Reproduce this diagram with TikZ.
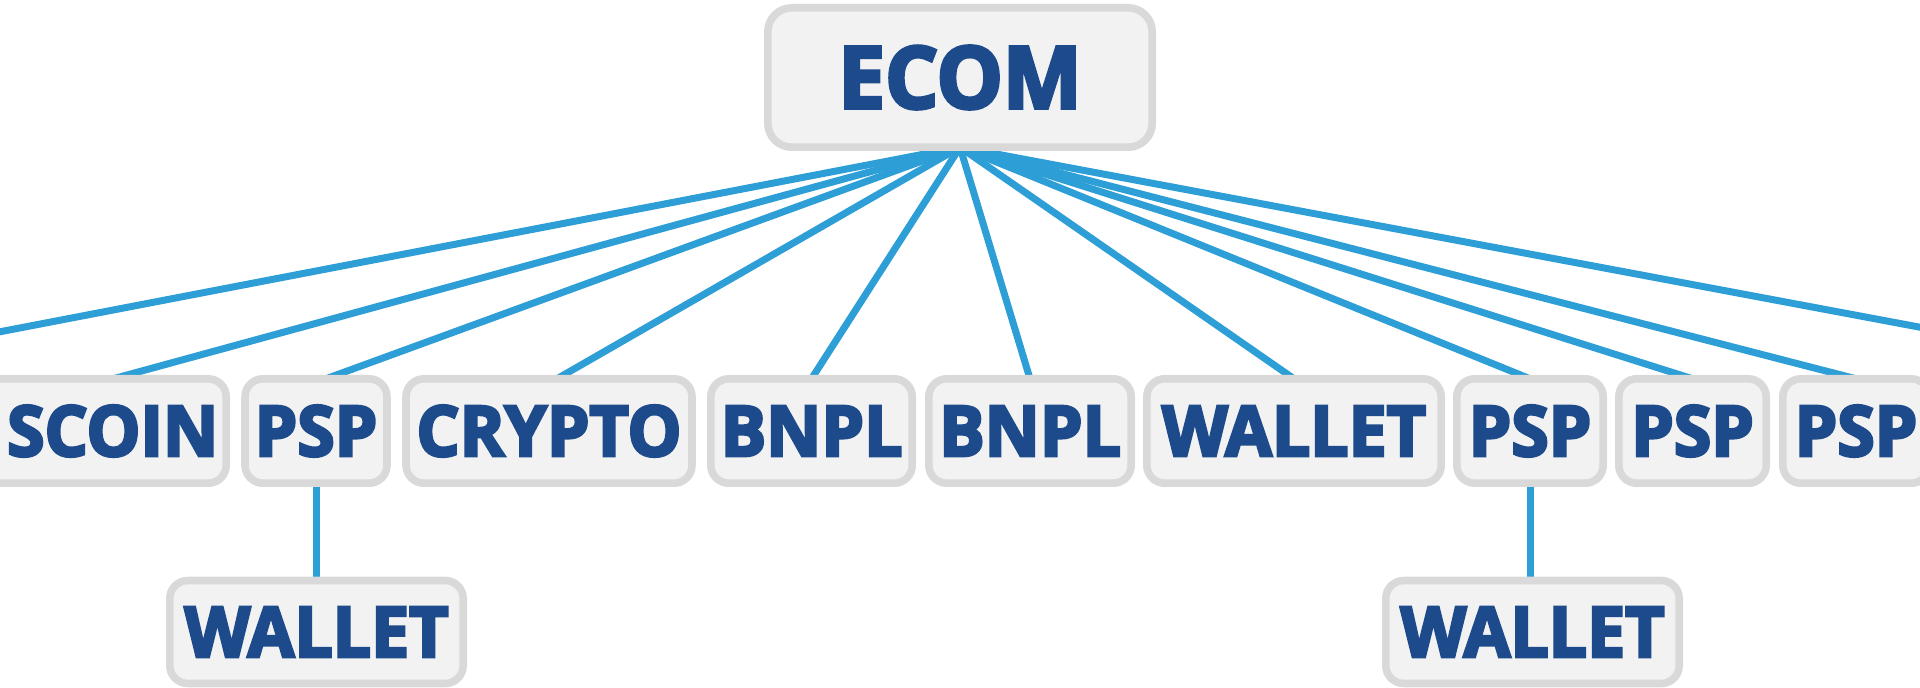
\documentclass[tikz,border=0pt]{standalone}
\usepackage{fontspec}
\setmainfont{Open Sans}[BoldFeatures={FakeBold=4,FakeStretch=0.97}]
\usetikzlibrary{backgrounds}
\definecolor{linkblue}{HTML}{2E9ED6}
\definecolor{boxfill}{HTML}{F2F2F2}
\definecolor{boxline}{HTML}{D9D9D9}
\definecolor{txtblue}{HTML}{1C4A8A}
\tikzset{
  box/.style={draw=boxline, fill=boxfill, line width=3.8pt, rounded corners=9pt,
    inner sep=0pt, outer sep=0pt, minimum height=52.2pt, text=txtblue,
    font=\fontsize{35}{40}\selectfont\bfseries},
  lowbox/.style={box, minimum height=51.5pt, minimum width=146.7pt},
  topbox/.style={box, rounded corners=12pt, minimum height=69.7pt, minimum width=192.2pt,
    font=\fontsize{43}{50}\selectfont\bfseries},
  link/.style={draw=linkblue, line width=3.5pt},
}
\begin{document}
\begin{tikzpicture}[x=0.5pt,y=-0.5pt]
\useasboundingbox (0,0) rectangle (1920,688);
\clip (0,0) rectangle (1920,688);
\node[topbox] (ecom) at (960,77.5) {ECOM};
\node[box, minimum width=123pt, text width=115pt, inner xsep=4pt, align=right] (scoin) at (103.2,431) {SCOIN};
\node[box, minimum width=71pt] (psp1) at (316,431) {PSP};
\node[box, minimum width=143pt] (crypto) at (549,431) {CRYPTO};
\node[box, minimum width=100.7pt] (bnpl1) at (811.5,431) {BNPL};
\node[box, minimum width=101.2pt] (bnpl2) at (1030,431) {BNPL};
\node[box, minimum width=147.2pt] (wallet) at (1294,431) {WALLET};
\node[box, minimum width=73.2pt] (psp2) at (1530,431) {PSP};
\node[box, minimum width=73.7pt] (psp3) at (1692.5,431) {PSP};
\node[box, minimum width=73.2pt] (psp4) at (1856,431) {PSP};
\node[lowbox] (walletA) at (316.5,632) {WALLET};
\node[lowbox] (walletB) at (1532.5,632) {WALLET};
\coordinate (offL) at (-230,376);
\coordinate (offR) at (2180,376);
\begin{scope}[on background layer]
\clip (0,0) rectangle (1920,688);
\draw[link] (ecom.south) -- (offL);
\draw[link] (ecom.south) -- ([xshift=5pt]scoin.north);
\draw[link] (ecom.south) -- ([xshift=5pt]psp1.north);
\draw[link] (ecom.south) -- ([xshift=4pt]crypto.north);
\draw[link] (ecom.south) -- (bnpl1.north);
\draw[link] (ecom.south) -- (bnpl2.north);
\draw[link] (ecom.south) -- (wallet.north);
\draw[link] (ecom.south) -- (psp2.north);
\draw[link] (ecom.south) -- (psp3.north);
\draw[link] (ecom.south) -- (psp4.north);
\draw[link] (ecom.south) -- (offR);
\draw[link] (psp1.south) -- (psp1.south |- walletA.north);
\draw[link] (psp2.south) -- (psp2.south |- walletB.north);
\end{scope}
\end{tikzpicture}
\end{document}
